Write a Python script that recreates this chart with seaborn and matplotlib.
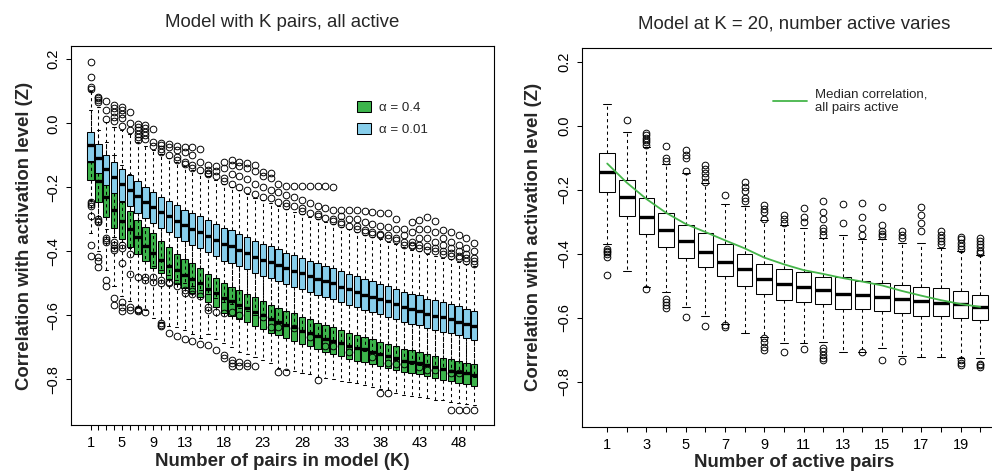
import matplotlib
matplotlib.use("Agg")
import matplotlib.pyplot as plt
from matplotlib.patches import Patch
from matplotlib.lines import Line2D
import seaborn as sns

# ---------------- left panel: model with K pairs, all active ----------------
pairs_k = list(range(1, 51))
k_tick_labels = [1, 5, 9, 13, 18, 23, 28, 33, 38, 43, 48]

# alpha = 0.01 (blue)
med_b = [-0.068, -0.108, -0.144, -0.168, -0.190, -0.208, -0.228, -0.246, -0.262, -0.277,
         -0.290, -0.305, -0.318, -0.330, -0.339, -0.352, -0.364, -0.378, -0.385, -0.396,
         -0.406, -0.417, -0.427, -0.434, -0.443, -0.453, -0.462, -0.469, -0.477, -0.487,
         -0.493, -0.500, -0.511, -0.518, -0.526, -0.537, -0.542, -0.549, -0.557, -0.565,
         -0.575, -0.581, -0.586, -0.597, -0.601, -0.607, -0.611, -0.620, -0.627, -0.634]
q3_b = [-0.026, -0.065, -0.098, -0.122, -0.142, -0.161, -0.180, -0.198, -0.214, -0.229,
        -0.242, -0.256, -0.270, -0.281, -0.291, -0.303, -0.315, -0.326, -0.335, -0.346,
        -0.356, -0.367, -0.377, -0.385, -0.394, -0.404, -0.413, -0.420, -0.429, -0.438,
        -0.445, -0.452, -0.462, -0.470, -0.478, -0.488, -0.494, -0.501, -0.509, -0.517,
        -0.526, -0.533, -0.538, -0.548, -0.553, -0.559, -0.564, -0.572, -0.579, -0.586]
q1_b = [-0.117, -0.156, -0.192, -0.218, -0.242, -0.259, -0.279, -0.296, -0.313, -0.327,
        -0.341, -0.355, -0.369, -0.380, -0.390, -0.402, -0.414, -0.430, -0.436, -0.447,
        -0.457, -0.467, -0.477, -0.485, -0.494, -0.503, -0.512, -0.519, -0.527, -0.537,
        -0.543, -0.550, -0.560, -0.567, -0.575, -0.585, -0.590, -0.597, -0.604, -0.611,
        -0.620, -0.626, -0.631, -0.641, -0.645, -0.651, -0.655, -0.663, -0.670, -0.677]
whishi_b = [0.100, 0.052, 0.005, -0.012, -0.020, -0.035, -0.060, -0.070, -0.085, -0.095,
            -0.110, -0.122, -0.135, -0.145, -0.155, -0.165, -0.177, -0.190, -0.200, -0.210,
            -0.220, -0.232, -0.240, -0.250, -0.258, -0.268, -0.276, -0.285, -0.292, -0.300,
            -0.308, -0.315, -0.325, -0.332, -0.340, -0.350, -0.356, -0.363, -0.370, -0.378,
            -0.388, -0.395, -0.400, -0.410, -0.415, -0.420, -0.425, -0.433, -0.440, -0.447]
whislo_b = [-0.240, -0.290, -0.330, -0.355, -0.370, -0.390, -0.410, -0.430, -0.445, -0.460,
            -0.475, -0.490, -0.500, -0.510, -0.520, -0.535, -0.545, -0.560, -0.565, -0.578,
            -0.588, -0.598, -0.600, -0.612, -0.622, -0.630, -0.635, -0.648, -0.655, -0.665,
            -0.672, -0.680, -0.690, -0.697, -0.705, -0.712, -0.718, -0.725, -0.732, -0.740,
            -0.745, -0.752, -0.755, -0.755, -0.762, -0.768, -0.772, -0.778, -0.785, -0.792]
out_hi_b = [[0.19, 0.145, 0.112, 0.106], [0.082, 0.078, 0.073, 0.068], [0.071, 0.04, 0.013],
            [0.058, 0.047, 0.036, 0.021, 0.008], [0.05, 0.04, 0.03, 0.015, -0.01],
            [0.036, 0.0, -0.02], [-0.002, -0.012, -0.022, -0.032, -0.042, -0.052],
            [-0.006, -0.016, -0.026, -0.036, -0.048], [-0.018, -0.06, -0.072],
            [-0.062, -0.068, -0.08, -0.09], [-0.065, -0.075, -0.1], [-0.07, -0.085, -0.105, -0.115],
            [-0.073, -0.09, -0.12, -0.128], [-0.075, -0.1, -0.13, -0.14], [-0.08, -0.12, -0.145],
            [-0.13, -0.145, -0.155, -0.16], [-0.135, -0.15, -0.165], [-0.12, -0.14, -0.17, -0.18],
            [-0.115, -0.13, -0.16, -0.19], [-0.12, -0.135, -0.165, -0.2], [-0.125, -0.14, -0.175, -0.21],
            [-0.13, -0.15, -0.19, -0.22], [-0.152, -0.165, -0.2, -0.23], [-0.155, -0.17, -0.21, -0.235],
            [-0.19, -0.215, -0.245], [-0.196, -0.225, -0.25, -0.26], [-0.196, -0.23, -0.26],
            [-0.196, -0.24, -0.265, -0.275], [-0.196, -0.25, -0.28], [-0.196, -0.26, -0.285, -0.29],
            [-0.196, -0.265, -0.295], [-0.198, -0.27, -0.3, -0.305], [-0.27, -0.29, -0.31, -0.315],
            [-0.27, -0.3, -0.32], [-0.27, -0.3, -0.32, -0.33], [-0.275, -0.31, -0.335, -0.34],
            [-0.278, -0.315, -0.34, -0.345], [-0.28, -0.32, -0.345, -0.35], [-0.28, -0.325, -0.35, -0.36],
            [-0.30, -0.33, -0.36, -0.365], [-0.33, -0.35, -0.37, -0.38], [-0.31, -0.34, -0.37, -0.38, -0.385],
            [-0.302, -0.33, -0.36, -0.38, -0.39], [-0.292, -0.33, -0.36, -0.385, -0.395],
            [-0.307, -0.34, -0.37, -0.39, -0.40], [-0.333, -0.36, -0.38, -0.40, -0.41],
            [-0.34, -0.37, -0.39, -0.405, -0.415], [-0.348, -0.38, -0.40, -0.415, -0.42],
            [-0.358, -0.39, -0.41, -0.42, -0.43], [-0.374, -0.40, -0.42, -0.43, -0.44]]
out_lo_b = [[-0.247, -0.252, -0.257, -0.29], [-0.30, -0.307, -0.31], [-0.36, -0.365, -0.37],
            [-0.37, -0.38, -0.39, -0.396], [-0.38, -0.39, -0.438], [-0.41, -0.47], [-0.479],
            [-0.48, -0.49], [-0.48, -0.495], [-0.49, -0.5], [-0.495, -0.5], [-0.51], [-0.52, -0.53],
            [-0.525, -0.535], [-0.54], [-0.573, -0.583], [-0.589], [-0.594], [-0.59], [-0.6],
            [], [], [-0.607], [-0.636], [-0.636], [], [-0.641], [], [-0.667], [],
            [-0.696], [-0.696], [], [-0.714], [], [], [-0.729], [], [-0.75], [-0.752],
            [-0.753], [], [-0.761], [-0.771], [-0.771], [], [-0.781], [-0.781], [], []]

# alpha = 0.4 (green)
med_g = [-0.118, -0.180, -0.231, -0.270, -0.304, -0.331, -0.356, -0.383, -0.407, -0.427,
         -0.445, -0.460, -0.474, -0.486, -0.499, -0.517, -0.530, -0.546, -0.557, -0.567,
         -0.578, -0.589, -0.599, -0.612, -0.620, -0.630, -0.638, -0.649, -0.656, -0.665,
         -0.674, -0.679, -0.688, -0.696, -0.703, -0.706, -0.714, -0.721, -0.727, -0.734,
         -0.742, -0.745, -0.750, -0.757, -0.763, -0.768, -0.773, -0.778, -0.782, -0.787]
q3_g = [-0.060, -0.120, -0.170, -0.210, -0.245, -0.273, -0.302, -0.325, -0.344, -0.368,
        -0.388, -0.408, -0.425, -0.438, -0.452, -0.470, -0.483, -0.500, -0.512, -0.522,
        -0.533, -0.544, -0.555, -0.567, -0.576, -0.586, -0.594, -0.606, -0.613, -0.623,
        -0.632, -0.638, -0.647, -0.656, -0.663, -0.667, -0.675, -0.683, -0.689, -0.697,
        -0.705, -0.709, -0.714, -0.721, -0.728, -0.733, -0.738, -0.743, -0.748, -0.753]
q1_g = [-0.177, -0.247, -0.292, -0.328, -0.363, -0.388, -0.408, -0.432, -0.453, -0.469,
        -0.488, -0.503, -0.516, -0.530, -0.543, -0.560, -0.573, -0.594, -0.601, -0.611,
        -0.622, -0.633, -0.642, -0.655, -0.663, -0.672, -0.680, -0.691, -0.697, -0.706,
        -0.715, -0.720, -0.728, -0.736, -0.742, -0.745, -0.752, -0.759, -0.764, -0.770,
        -0.778, -0.780, -0.785, -0.791, -0.797, -0.802, -0.806, -0.811, -0.815, -0.820]
whishi_g = [0.040, -0.020, -0.060, -0.100, -0.130, -0.160, -0.190, -0.210, -0.230, -0.255,
            -0.270, -0.290, -0.310, -0.320, -0.335, -0.350, -0.365, -0.380, -0.390, -0.400,
            -0.410, -0.420, -0.430, -0.445, -0.455, -0.465, -0.470, -0.480, -0.490, -0.500,
            -0.510, -0.515, -0.525, -0.535, -0.540, -0.545, -0.555, -0.560, -0.570, -0.575,
            -0.585, -0.590, -0.595, -0.600, -0.610, -0.615, -0.620, -0.625, -0.630, -0.635]
whislo_g = [-0.343, -0.400, -0.460, -0.510, -0.540, -0.557, -0.575, -0.585, -0.610, -0.620,
            -0.635, -0.638, -0.646, -0.660, -0.670, -0.660, -0.675, -0.687, -0.700, -0.715,
            -0.720, -0.730, -0.740, -0.750, -0.765, -0.770, -0.775, -0.780, -0.785, -0.792,
            -0.795, -0.800, -0.805, -0.810, -0.813, -0.818, -0.823, -0.830, -0.835, -0.844,
            -0.848, -0.852, -0.855, -0.860, -0.865, -0.866, -0.870, -0.873, -0.876, -0.880]
out_lo_g = [[-0.38, -0.415], [-0.417, -0.43, -0.448], [-0.49, -0.51], [-0.545, -0.568],
            [-0.56, -0.575, -0.586], [-0.575, -0.583], [-0.58, -0.583, -0.588], [-0.589], [],
            [-0.625, -0.63, -0.635], [-0.654], [-0.665], [-0.674], [-0.682], [-0.69], [-0.693],
            [-0.709], [-0.724, -0.735], [-0.74, -0.75, -0.76], [-0.745, -0.76], [-0.75, -0.76],
            [-0.76], [], [], [-0.776], [-0.776], [], [], [], [-0.802], [], [], [], [], [], [], [],
            [-0.844], [-0.844], [], [], [], [], [], [], [], [-0.896], [-0.896], [-0.896], [-0.896]]

# ---------------- right panel: model at K = 20 ----------------
active_pairs = list(range(1, 21))
active_tick_labels = [1, 3, 5, 7, 9, 11, 13, 15, 17, 19]
med_r = [-0.146, -0.224, -0.286, -0.326, -0.359, -0.394, -0.427, -0.449, -0.480, -0.496,
         -0.505, -0.514, -0.527, -0.530, -0.534, -0.541, -0.548, -0.553, -0.557, -0.566]
q3_r = [-0.086, -0.168, -0.227, -0.274, -0.309, -0.336, -0.371, -0.401, -0.432, -0.449,
        -0.456, -0.472, -0.472, -0.485, -0.490, -0.498, -0.503, -0.508, -0.517, -0.529]
q1_r = [-0.208, -0.282, -0.338, -0.378, -0.414, -0.441, -0.470, -0.501, -0.526, -0.545,
        -0.552, -0.556, -0.572, -0.572, -0.579, -0.586, -0.594, -0.595, -0.602, -0.607]
whishi_r = [0.067, -0.019, -0.066, -0.118, -0.149, -0.180, -0.243, -0.250, -0.295, -0.310,
            -0.320, -0.350, -0.342, -0.355, -0.355, -0.367, -0.367, -0.383, -0.390, -0.405]
whislo_r = [-0.370, -0.454, -0.503, -0.519, -0.566, -0.595, -0.620, -0.649, -0.659, -0.678,
            -0.678, -0.675, -0.706, -0.706, -0.694, -0.720, -0.722, -0.722, -0.725, -0.725]
out_hi_r = [[], [0.018], [-0.023, -0.03, -0.037, -0.045, -0.052, -0.06], [-0.063, -0.1, -0.11],
            [-0.076, -0.09, -0.102, -0.14], [-0.123, -0.135, -0.148, -0.16, -0.175], [-0.217],
            [-0.175, -0.19, -0.205, -0.225, -0.235], [-0.248, -0.26, -0.27, -0.29],
            [-0.28, -0.29, -0.305], [-0.258, -0.285, -0.3], [-0.236, -0.27, -0.29, -0.32, -0.33, -0.34],
            [-0.243, -0.305], [-0.24, -0.285, -0.32, -0.34], [-0.254, -0.31, -0.33, -0.337, -0.345],
            [-0.33, -0.34, -0.35], [-0.255, -0.28, -0.305, -0.33], [-0.33, -0.34, -0.35, -0.36, -0.37],
            [-0.347, -0.355, -0.365, -0.375, -0.385], [-0.352, -0.36, -0.37, -0.38, -0.39, -0.398]]
out_lo_r = [[-0.385, -0.39, -0.395, -0.40, -0.41, -0.467], [], [-0.51], [-0.54, -0.55, -0.56, -0.57],
            [-0.597], [-0.626], [-0.623, -0.628], [], [-0.664, -0.675, -0.69, -0.701], [-0.706],
            [-0.699], [-0.696, -0.705, -0.715, -0.725, -0.733], [], [-0.706], [-0.733], [-0.734],
            [], [], [-0.733, -0.74, -0.748], [-0.743, -0.748, -0.754]]
# median correlation with all pairs active (green line)
median_all_active = [-0.118, -0.178, -0.229, -0.272, -0.307, -0.332, -0.358, -0.383, -0.412, -0.433,
                     -0.451, -0.463, -0.476, -0.487, -0.499, -0.516, -0.531, -0.545, -0.557, -0.566]

y_ticks = [0.2, 0.0, -0.2, -0.4, -0.6, -0.8]

GREEN = "#3cb44b"
BLUE = "#87ceeb"
LINE_GREEN = "#45b54a"

sns.set_style("ticks")
plt.rcParams["font.family"] = ["Liberation Sans", "DejaVu Sans"]
plt.rcParams["axes.unicode_minus"] = True


def make_stats(q1, med, q3, lo, hi, out_hi=None, out_lo=None):
    stats = []
    for i in range(len(med)):
        fl = []
        if out_hi is not None:
            fl += out_hi[i]
        if out_lo is not None:
            fl += out_lo[i]
        stats.append(dict(q1=q1[i], med=med[i], q3=q3[i], whislo=lo[i], whishi=hi[i], fliers=fl))
    return stats


def draw_boxes(ax, stats, positions, color, z):
    ax.bxp(stats, positions=positions, widths=0.8, capwidths=0.4, patch_artist=True,
           showfliers=True, manage_ticks=False, zorder=z,
           boxprops=dict(facecolor=color, edgecolor="black", linewidth=0.75),
           whiskerprops=dict(color="black", linewidth=0.75, linestyle=(0, (3, 3))),
           capprops=dict(color="black", linewidth=0.75),
           medianprops=dict(color="black", linewidth=2.4, solid_capstyle="butt"),
           flierprops=dict(marker="o", markersize=4.8, markerfacecolor="none",
                           markeredgecolor="black", markeredgewidth=0.7))


def style_axes(ax):
    for s in ax.spines.values():
        s.set_visible(True)
        s.set_color("black")
        s.set_linewidth(0.8)
    ax.tick_params(axis="both", direction="out", length=3.6, width=0.75, color="black",
                   labelsize=10.5, labelcolor="black")
    ax.tick_params(axis="x", pad=4.5)
    ax.tick_params(axis="y", pad=4)
    ax.set_yticks(y_ticks)
    ax.set_yticklabels([f"{v:.1f}".replace("-", "\u2212") for v in y_ticks],
                       rotation=90, va="center")
    ax.grid(False)


fig = plt.figure(figsize=(9.92, 4.74), dpi=100)
ax1 = fig.add_axes([0.07157, 0.10338, 0.42621, 0.79958])
ax2 = fig.add_axes([0.58639, 0.09979, 0.42742, 0.79958])

# left panel
draw_boxes(ax1, make_stats(q1_g, med_g, q3_g, whislo_g, whishi_g, out_lo=out_lo_g), pairs_k, GREEN, 2)
draw_boxes(ax1, make_stats(q1_b, med_b, q3_b, whislo_b, whishi_b, out_hi_b, out_lo_b), pairs_k, BLUE, 3)
ax1.set_xlim(-1.5, 52.5)
ax1.set_ylim(-0.943, 0.2415)
style_axes(ax1)
ax1.set_xticks(pairs_k)
ax1.set_xticklabels([str(k) if k in k_tick_labels else "" for k in pairs_k])
ax1.set_title("Model with K pairs, all active", fontsize=13.4, pad=13.4)
ax1.set_xlabel("Number of pairs in model (K)", fontsize=13.4, fontweight="bold", labelpad=1.8)
ax1.legend(handles=[Patch(facecolor=GREEN, edgecolor="black", linewidth=0.75),
                    Patch(facecolor=BLUE, edgecolor="black", linewidth=0.75)],
           labels=["\u03b1 = 0.4", "\u03b1 = 0.01"], frameon=False, fontsize=9.6,
           handlelength=1.05, handleheight=0.9, handletextpad=0.6, labelspacing=0.64,
           loc="upper left", bbox_to_anchor=(0.647, 0.886))

# right panel
draw_boxes(ax2, make_stats(q1_r, med_r, q3_r, whislo_r, whishi_r, out_hi_r, out_lo_r),
           active_pairs, "white", 2)
sns.lineplot(x=active_pairs, y=median_all_active, ax=ax2, color=LINE_GREEN, linewidth=1.3, zorder=6)
ax2.set_xlim(-0.3, 21.3)
ax2.set_ylim(-0.9405, 0.244)
style_axes(ax2)
ax2.set_xticks(active_pairs)
ax2.set_xticklabels([str(k) if k in active_tick_labels else "" for k in active_pairs])
ax2.set_title("Model at K = 20, number active varies", fontsize=13.4, pad=13.8)
ax2.set_xlabel("Number of active pairs", fontsize=13.4, fontweight="bold", labelpad=1.8)
ax2.legend(handles=[Line2D([], [], color=LINE_GREEN, linewidth=1.3)],
           labels=["Median correlation,\nall pairs active"], frameon=False, fontsize=9.5,
           handlelength=2.65, handletextpad=0.6, loc="upper left", bbox_to_anchor=(0.422, 0.924))

fig.text(25 / 992, 1 - 236 / 474, "Correlation with activation level (Z)", rotation=90,
         ha="center", va="center", fontsize=13.4, fontweight="bold")
fig.text(533 / 992, 1 - 237 / 474, "Correlation with activation level (Z)", rotation=90,
         ha="center", va="center", fontsize=13.4, fontweight="bold")

fig.savefig("out.png", dpi=100)
